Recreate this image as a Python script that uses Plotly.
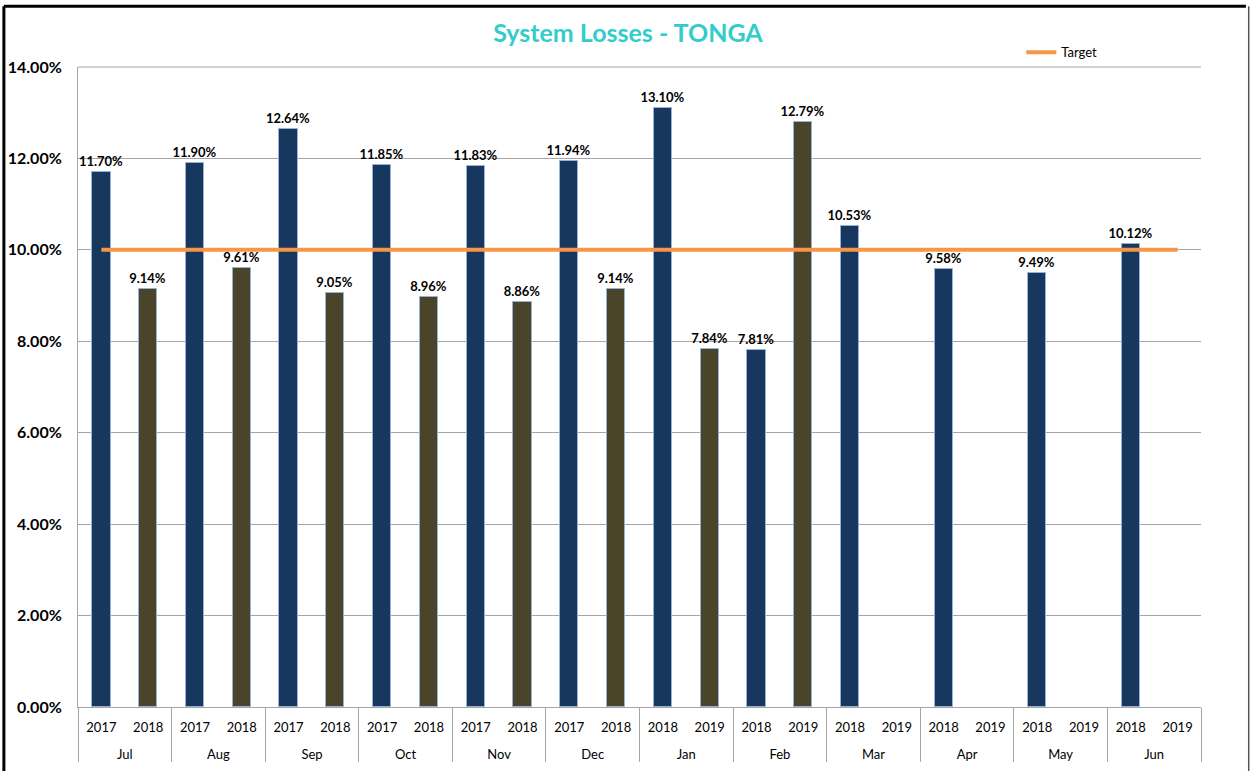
import plotly.graph_objects as go

months = ["Jul", "Aug", "Sep", "Oct", "Nov", "Dec", "Jan", "Feb", "Mar", "Apr", "May", "Jun"]
years_first = ["2017", "2017", "2017", "2017", "2017", "2017", "2018", "2018", "2018", "2018", "2018", "2018"]
years_second = ["2018", "2018", "2018", "2018", "2018", "2018", "2019", "2019", "2019", "2019", "2019", "2019"]
losses_first = [0.1170, 0.1190, 0.1264, 0.1185, 0.1183, 0.1194, 0.1310, 0.0781, 0.1053, 0.0958, 0.0949, 0.1012]
losses_second = [0.0914, 0.0961, 0.0905, 0.0896, 0.0886, 0.0914, 0.0784, 0.1279, None, None, None, None]
target = 0.10

NAVY = "#17375E"
OLIVE = "#4A452A"

x_month, x_year, y_vals, colors = [], [], [], []
for m, y1, y2, v1, v2 in zip(months, years_first, years_second, losses_first, losses_second):
    x_month += ["<br>" + m, "<br>" + m]
    x_year += [y1, y2]
    y_vals += [v1, v2]
    colors += [NAVY, OLIVE]

fig = go.Figure()
fig.add_trace(go.Bar(
    x=[x_month, x_year], y=y_vals,
    marker=dict(color=colors, line=dict(color="#95B3D7", width=1)),
    width=0.39,
    texttemplate="%{y:.2%}", textposition="outside", constraintext="none",
    textfont=dict(size=13, color="black", family="Lato", weight="bold"),
    cliponaxis=False, showlegend=False, hoverinfo="y",
))
fig.add_trace(go.Scatter(
    x=[x_month, x_year], y=[target] * len(x_month),
    mode="lines", name="Target",
    line=dict(color="#F79646", width=4),
))

fig.update_layout(
    width=1251, height=771,
    paper_bgcolor="white", plot_bgcolor="white",
    margin=dict(l=78, r=50, t=67, b=64, autoexpand=False),
    font=dict(family="Lato", size=13, color="black"),
    title=dict(text="<b>System Losses - TONGA</b>", x=0.502, xanchor="center", y=0.957, yanchor="middle",
               font=dict(size=25, color="#33CCCC", family="Lato")),
    bargap=0.0,
    legend=dict(x=0.84, y=1.023, xanchor="left", yanchor="middle", orientation="h",
                font=dict(size=13), bgcolor="rgba(0,0,0,0)"),
    yaxis=dict(range=[0, 0.14], dtick=0.02, tickformat=".2%", showgrid=True, gridcolor="#A6A6A6",
               gridwidth=1, showline=True, linecolor="#A6A6A6", zeroline=False,
               tickfont=dict(size=16, family="Lato", weight="bold"), ticks="", ticklabelstandoff=12),
    xaxis=dict(type="multicategory", showline=True, linecolor="#A6A6A6", showdividers=True,
               dividercolor="#A6A6A6", dividerwidth=1, tickfont=dict(size=13), showgrid=False,
               ticklabelstandoff=8),
    shapes=[
        dict(type="line", xref="paper", yref="paper", x0=-0.066, x1=1.04, y0=1.095, y1=1.095,
             line=dict(color="black", width=3)),
        dict(type="line", xref="paper", yref="paper", x0=-0.066, x1=-0.066, y0=-0.11, y1=1.095,
             line=dict(color="black", width=3)),
        dict(type="line", xref="paper", yref="paper", x0=1.0425, x1=1.0425, y0=-0.11, y1=1.095,
             line=dict(color="#555555", width=1.5)),
        dict(type="line", xref="paper", yref="paper", x0=0, x1=1, y0=1, y1=1,
             line=dict(color="#A6A6A6", width=1)),
    ],
)

fig.write_html("out.html", config={"displayModeBar": False},
               post_script="document.body.style.margin='0';")
